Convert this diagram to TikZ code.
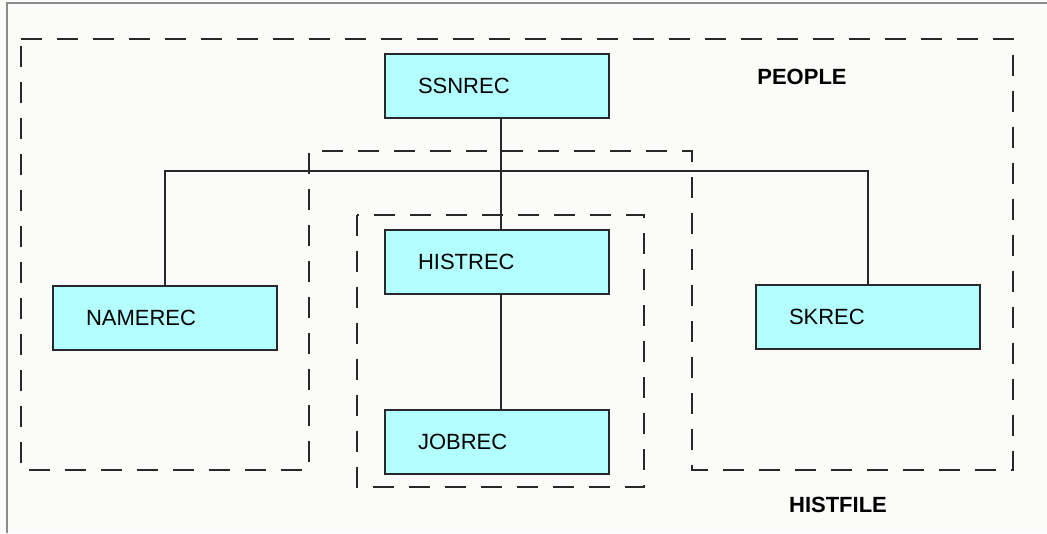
\documentclass[tikz,border=0pt]{standalone}
\usepackage{fontspec}
\setmainfont{Liberation Sans}
\usepackage{tikz}
\definecolor{recfill}{RGB}{179,255,255}
\definecolor{ink}{RGB}{40,40,40}
\definecolor{framegray}{RGB}{140,140,140}
\definecolor{paper}{RGB}{251,252,250}

\begin{document}
\begin{tikzpicture}[x=1pt,y=-1pt,
			rec/.style={draw=ink,fill=recfill,line width=1.6pt,rectangle,
				text width=158pt,inner xsep=33pt,inner ysep=0pt,align=left,
				minimum height=64pt,font=\fontsize{22}{26}\selectfont},
			link/.style={draw=ink,line width=1.6pt},
			area/.style={draw=ink,line width=1.8pt,dash pattern=on 21pt off 15pt},
			tag/.style={font=\bfseries\fontsize{22}{26}\selectfont,inner sep=0pt}]
			\useasboundingbox[fill=paper] (0,0) rectangle (1047,533);
			% frame of the screenshot
			\draw[framegray,line width=2pt] (7,533) -- (7,3) -- (1047,3);
			% the two files
			\draw[area] (21,39) -- (1013,39) -- (1013,470) -- (692,470) -- (692,151)
				-- (309,151) -- (309,470) -- (21,470) -- cycle;
			\draw[area] (357,215) rectangle (644,487);
			% records
			\node[rec] (ssnrec) at (497,86) {SSNREC};
			\node[rec] (namerec) at (165,318) {NAMEREC};
			\node[rec] (histrec) at (497,262) {HISTREC};
			\node[rec] (skrec) at (868,317) {SKREC};
			\node[rec] (jobrec) at (497,442) {JOBREC};
			\coordinate (bus) at (501,171);
			\draw[link] (ssnrec.south -| bus) -- (histrec.north -| bus);
			\draw[link] (namerec.north) |- (bus) -| (skrec.north);
			\draw[link] (histrec.south -| bus) -- (jobrec.north -| bus);
			% file names
			\node[tag] (people) at (802,77) {PEOPLE};
			\node[tag] (histfile) at (838,505) {HISTFILE};
		\end{tikzpicture}
\end{document}
